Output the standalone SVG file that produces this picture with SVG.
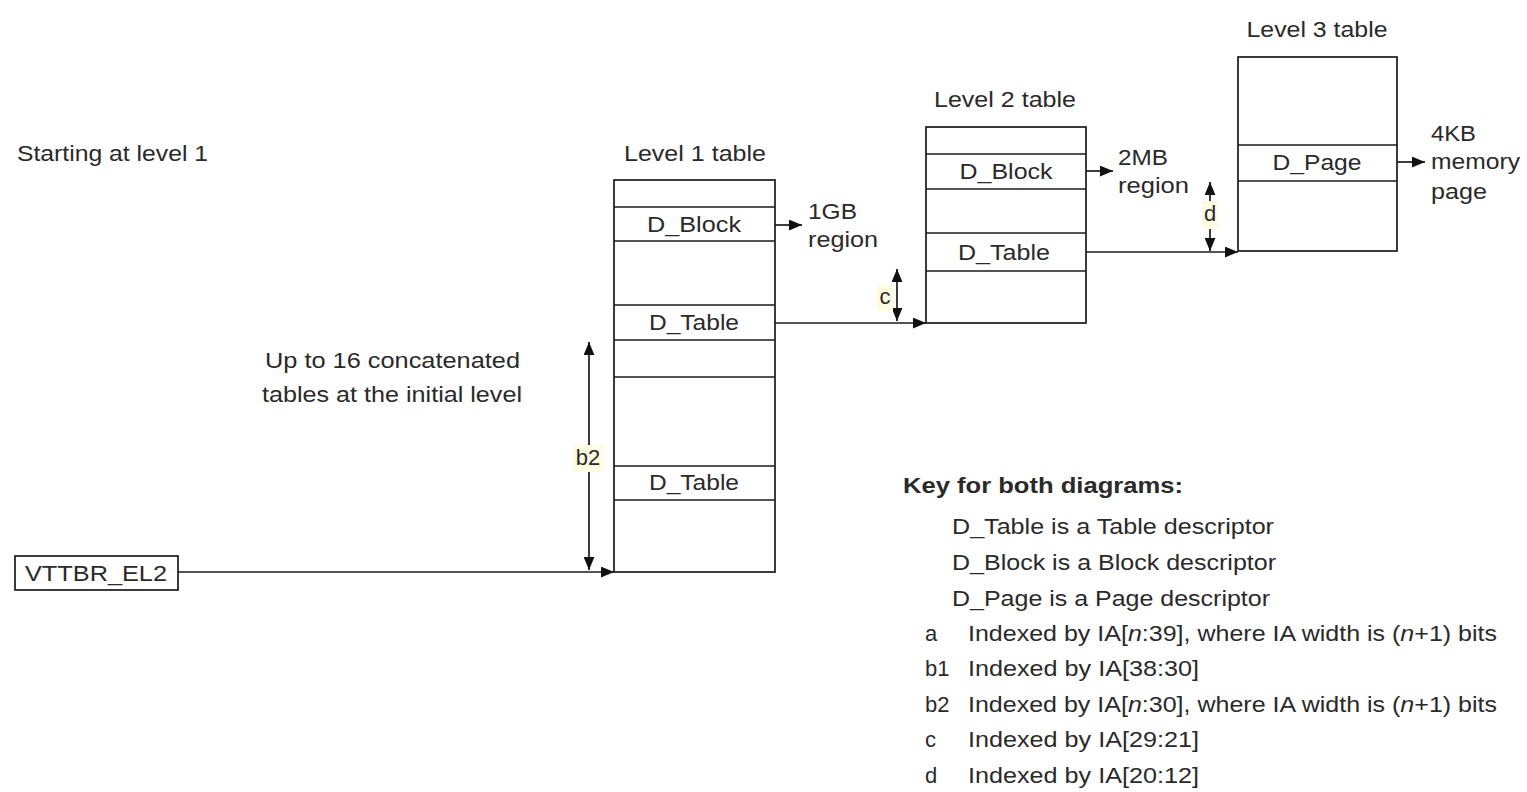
<svg xmlns="http://www.w3.org/2000/svg" width="1527" height="792" viewBox="0 0 1527 792">
<defs>
<marker id="ah" viewBox="0 0 12 10" refX="12" refY="5" markerWidth="13" markerHeight="11" markerUnits="userSpaceOnUse" orient="auto-start-reverse">
<path d="M0,0 L12,5 L0,10 z" fill="#111"/>
</marker>
<style>
text{font-family:"Liberation Sans",Arial,sans-serif;font-size:22px;fill:#2a2a2a}
.b{font-weight:bold}
.it{font-style:italic}
.m{text-anchor:middle}
.box{fill:#fff;stroke:#1a1a1a;stroke-width:1.7}
.ln{stroke:#1a1a1a;stroke-width:1.7;fill:none}
.hl{fill:#fffbe2}
</style>
</defs>
<rect width="1527" height="792" fill="#fff"/>

<text x="17" y="161" textLength="191" lengthAdjust="spacingAndGlyphs">Starting at level 1</text>

<g id="level1">
<text class="m" x="695" y="161" textLength="142" lengthAdjust="spacingAndGlyphs">Level 1 table</text>
<rect class="box" x="614" y="180" width="161" height="392"/>
<line class="ln" x1="614" y1="207" x2="775" y2="207"/>
<line class="ln" x1="614" y1="241" x2="775" y2="241"/>
<line class="ln" x1="614" y1="305" x2="775" y2="305"/>
<line class="ln" x1="614" y1="340" x2="775" y2="340"/>
<line class="ln" x1="614" y1="377" x2="775" y2="377"/>
<line class="ln" x1="614" y1="466" x2="775" y2="466"/>
<line class="ln" x1="614" y1="500" x2="775" y2="500"/>
<text class="m" x="694" y="232" textLength="94" lengthAdjust="spacingAndGlyphs">D_Block</text>
<text class="m" x="694" y="330" textLength="90" lengthAdjust="spacingAndGlyphs">D_Table</text>
<text class="m" x="694" y="490" textLength="90" lengthAdjust="spacingAndGlyphs">D_Table</text>
</g>

<g id="level2">
<text class="m" x="1005" y="107" textLength="142" lengthAdjust="spacingAndGlyphs">Level 2 table</text>
<rect class="box" x="926" y="127" width="160" height="196"/>
<line class="ln" x1="926" y1="154" x2="1086" y2="154"/>
<line class="ln" x1="926" y1="189" x2="1086" y2="189"/>
<line class="ln" x1="926" y1="233" x2="1086" y2="233"/>
<line class="ln" x1="926" y1="271" x2="1086" y2="271"/>
<text class="m" x="1006" y="179" textLength="93" lengthAdjust="spacingAndGlyphs">D_Block</text>
<text class="m" x="1004" y="260" textLength="92" lengthAdjust="spacingAndGlyphs">D_Table</text>
</g>

<g id="level3">
<text class="m" x="1317" y="37" textLength="141" lengthAdjust="spacingAndGlyphs">Level 3 table</text>
<rect class="box" x="1238" y="57" width="159" height="194"/>
<line class="ln" x1="1238" y1="145" x2="1397" y2="145"/>
<line class="ln" x1="1238" y1="181" x2="1397" y2="181"/>
<text class="m" x="1317" y="170" textLength="89" lengthAdjust="spacingAndGlyphs">D_Page</text>
</g>

<g id="vttbr">
<rect class="box" x="15" y="556" width="163" height="34"/>
<text x="25" y="581" textLength="142" lengthAdjust="spacingAndGlyphs">VTTBR_EL2</text>
</g>

<g id="outputs">
<text x="808" y="219" textLength="49" lengthAdjust="spacingAndGlyphs">1GB</text>
<text x="808" y="247" textLength="70" lengthAdjust="spacingAndGlyphs">region</text>
<text x="1118" y="165" textLength="50" lengthAdjust="spacingAndGlyphs">2MB</text>
<text x="1118" y="193" textLength="71" lengthAdjust="spacingAndGlyphs">region</text>
<text x="1431" y="141" textLength="45" lengthAdjust="spacingAndGlyphs">4KB</text>
<text x="1431" y="169" textLength="89" lengthAdjust="spacingAndGlyphs">memory</text>
<text x="1431" y="199" textLength="56" lengthAdjust="spacingAndGlyphs">page</text>
</g>

<g id="note">
<text x="265" y="368" textLength="255" lengthAdjust="spacingAndGlyphs">Up to 16 concatenated</text>
<text x="262" y="402" textLength="260" lengthAdjust="spacingAndGlyphs">tables at the initial level</text>
</g>

<g id="connectors">
<line class="ln" x1="178" y1="572" x2="614" y2="572" marker-end="url(#ah)"/>
<line class="ln" x1="775" y1="225" x2="802" y2="225" marker-end="url(#ah)"/>
<line class="ln" x1="775" y1="323" x2="926" y2="323" marker-end="url(#ah)"/>
<line class="ln" x1="1086" y1="171" x2="1113" y2="171" marker-end="url(#ah)"/>
<line class="ln" x1="1086" y1="252" x2="1238" y2="252" marker-end="url(#ah)"/>
<line class="ln" x1="1397" y1="162" x2="1425" y2="162" marker-end="url(#ah)"/>
<line class="ln" x1="589" y1="342" x2="589" y2="570" marker-start="url(#ah)" marker-end="url(#ah)"/>
<line class="ln" x1="897" y1="269" x2="897" y2="321" marker-start="url(#ah)" marker-end="url(#ah)"/>
<line class="ln" x1="1210" y1="182" x2="1210" y2="251" marker-start="url(#ah)" marker-end="url(#ah)"/>
</g>

<g id="dim-labels">
<rect class="hl" x="573" y="445" width="31" height="27"/>
<text class="m" x="588" y="465">b2</text>
<rect class="hl" x="877" y="285" width="16" height="26"/>
<text class="m" x="885" y="304">c</text>
<rect class="hl" x="1202" y="201" width="16" height="28"/>
<text class="m" x="1210" y="221">d</text>
</g>

<g id="key">
<text class="b" x="903" y="493" textLength="280" lengthAdjust="spacingAndGlyphs">Key for both diagrams:</text>
<text x="952" y="534" textLength="322" lengthAdjust="spacingAndGlyphs">D_Table is a Table descriptor</text>
<text x="952" y="570" textLength="324" lengthAdjust="spacingAndGlyphs">D_Block is a Block descriptor</text>
<text x="952" y="606" textLength="318" lengthAdjust="spacingAndGlyphs">D_Page is a Page descriptor</text>
<text x="925" y="641">a</text>
<text x="968" y="641" textLength="529" lengthAdjust="spacingAndGlyphs">Indexed by IA[<tspan class="it">n</tspan>:39], where IA width is (<tspan class="it">n</tspan>+1) bits</text>
<text x="925" y="676">b1</text>
<text x="968" y="676" textLength="231" lengthAdjust="spacingAndGlyphs">Indexed by IA[38:30]</text>
<text x="925" y="712">b2</text>
<text x="968" y="712" textLength="529" lengthAdjust="spacingAndGlyphs">Indexed by IA[<tspan class="it">n</tspan>:30], where IA width is (<tspan class="it">n</tspan>+1) bits</text>
<text x="925" y="747">c</text>
<text x="968" y="747" textLength="231" lengthAdjust="spacingAndGlyphs">Indexed by IA[29:21]</text>
<text x="925" y="783">d</text>
<text x="968" y="783" textLength="231" lengthAdjust="spacingAndGlyphs">Indexed by IA[20:12]</text>
</g>
</svg>
